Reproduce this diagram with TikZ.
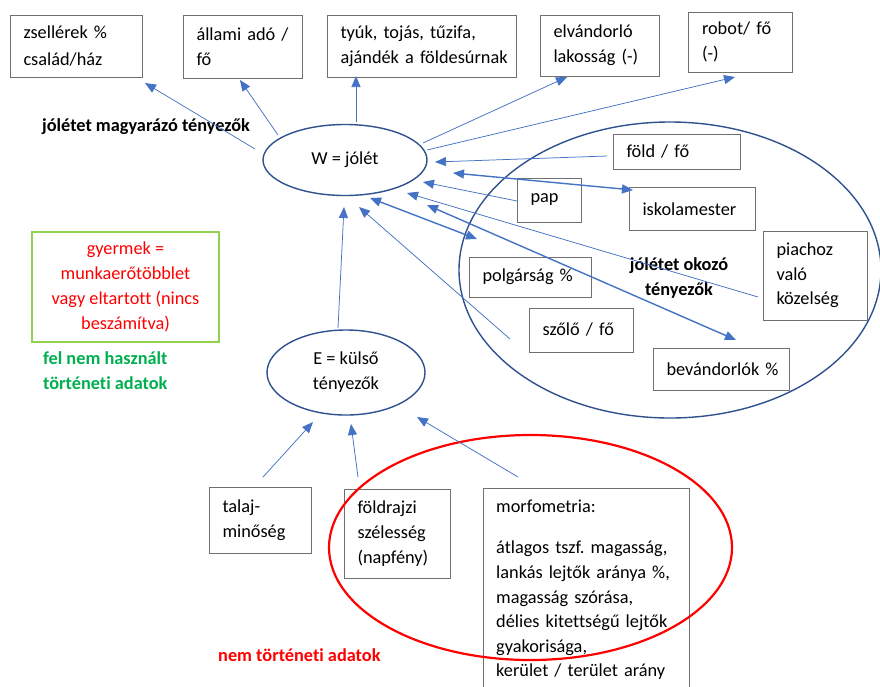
\documentclass[tikz,border=0pt]{standalone}
\usepackage{fontspec}
\setmainfont{Carlito}[Ligatures=NoCommon]
\usetikzlibrary{arrows.meta,calc,shapes.geometric}
\definecolor{arrblue}{HTML}{4472C4}
\definecolor{ellblue}{HTML}{2F528F}
\definecolor{boxgray}{HTML}{707070}
\definecolor{grnbox}{HTML}{92D050}
\definecolor{grntxt}{HTML}{00B050}
\definecolor{redc}{HTML}{FF0000}
\frenchspacing
\begin{document}
\begin{tikzpicture}[x=1pt,y=-1pt,
  font=\fontsize{18.3}{25}\selectfont\frenchspacing,
  box/.style={draw=boxgray,line width=0.8pt,inner xsep=13.5pt,inner ysep=0pt,align=left},
  boxline/.style={draw=boxgray,line width=0.8pt},
  ell/.style={draw=ellblue,ellipse,line width=1.4pt,inner sep=0pt},
  arr/.style={draw=arrblue,line width=0.75pt,-{Triangle[length=11pt,width=9pt]}},
  arrd/.style={draw=arrblue,line width=1.4pt,{Triangle[length=11pt,width=9pt]}-{Triangle[length=11pt,width=9pt]}},
  bold/.style={font=\fontsize{18.3}{25}\selectfont\bfseries,inner sep=0pt}]
\useasboundingbox (0,0) rectangle (880,686);
\fill[white] (0,0) rectangle (880,686);
\coordinate (bot) at (0,692);

% big ellipses
\node[ell,minimum width=422pt,minimum height=296pt] (okz) at (670,270) {};
\node[ell,minimum width=164pt,minimum height=71pt] (W) at (345,160) {W = jólét};
\node[ell,minimum width=158pt,minimum height=85pt,align=center] (E) at (346,372.5) {E = külső\\tényezők};

% top boxes
\node[box,text width=105pt,minimum height=62pt] (zs) at (76,46) {\mbox{zsellérek \%}\\[2pt]\mbox{család/ház}};
\node[box,text width=92pt,minimum height=63pt] (al) at (242.5,46.5) {\mbox{állami adó /}\\fő};
\node[box,text width=162pt,minimum height=62pt] (ty) at (421.5,46) {\mbox{tyúk, tojás, tűzifa,}\\\mbox{ajándék a földesúrnak}};
\node[box,text width=92pt,minimum height=61pt] (el) at (599.5,45.5) {elvándorló\\\mbox{lakosság (-)}};
\node[box,text width=77pt,minimum height=60pt] (ro) at (740.5,42) {\mbox{robot/ fő}\\(-)};

% boxes in the right ellipse
\node[box,text width=100pt,minimum height=35pt] (fo) at (676.5,151.5) {\mbox{föld / fő}};
\node[box,text width=37pt,minimum height=44pt] (pap) at (549,200) {pap};
\node[box,text width=99pt,minimum height=43pt] (isk) at (692,209) {iskolamester};
\node[box,text width=77pt,minimum height=89pt,font=\fontsize{18.3}{24.5}\selectfont] (pia) at (815,275.5) {piachoz\\való\\közelség};
\node[box,text width=95pt,minimum height=40pt] (pol) at (530,277) {\mbox{polgárság \%}};
\node[box,text width=77pt,minimum height=44pt] (sz) at (581,330) {\mbox{szőlő / fő}};
\node[box,text width=109pt,minimum height=42pt] (bev) at (721,369) {\mbox{bevándorlók \%}};

% bottom boxes
\node[box,text width=75pt,minimum height=66pt] (tal) at (260,520) {talaj-\\minőség};
\node[box,text width=79pt,minimum height=89pt] (geo) at (397,533.5) {földrajzi\\szélesség\\(napfény)};
\node[anchor=north west,inner xsep=13pt,inner ysep=12pt,text width=180pt,align=left,
      font=\fontsize{18.3}{24.6}\selectfont\frenchspacing] (morf) at (483,488)
  {morfometria:\\[16.4pt]\mbox{átlagos tszf. magasság,}\\\mbox{lankás lejtők aránya \%,}\\\mbox{magasság szórása,}\\\mbox{délies kitettségű lejtők}\\\mbox{gyakorisága,}\\\mbox{kerület / terület arány}};
\draw[boxline] (morf.north west |- bot) -- (morf.north west) -- (morf.north east) -- (morf.north east |- bot);

% green box and labels
\node[draw=grnbox,line width=2.6pt,minimum width=187pt,minimum height=110pt,align=center,text=redc,inner sep=0pt] (gy) at (125.5,287)
  {gyermek =\\munkaerőtöbblet\\vagy eltartott (nincs\\beszámítva)};
\node[bold,text=grntxt,align=left,anchor=west] (fel) at (43,371) {fel nem használt\\történeti adatok};
\node[bold,anchor=west] (mag) at (42,127) {jólétet magyarázó tényezők};
\node[bold,align=center] (okt) at (679,278) {jólétet okozó\\tényezők};
\node[bold,text=redc,anchor=west] (nem) at (218,655) {nem történeti adatok};

% red ellipse
\node[draw=redc,line width=2.2pt,ellipse,minimum width=403pt,minimum height=225pt,inner sep=0pt] (nt) at (530.5,547.5) {};

% arrows from W
\draw[arr] ($(W)+(-90,-11)$) -- ($(zs)+(69,37)$);
\draw[arr] ($(W)+(-67,-25)$) -- ($(al)+(-2.5,33.5)$);
\draw[arr] ($(W)+(11,-38)$) -- ($(ty)+(-65.5,30)$);
\draw[arr] ($(W)+(78,-17)$) -- ($(el)+(-32.5,31.5)$);
\draw[arr] ($(W)+(82,-10)$) -- ($(ro)+(-5.5,35)$);
% arrows into W
\draw[arr] ($(fo)+(-69.5,4.5)$) -- ($(W)+(90,2)$);
\draw[arrd] ($(W)+(108,13)$) -- ($(isk)+(-59,-19)$);
\draw[arr] ($(pap)+(-32,1)$) -- ($(W)+(78,22)$);
\draw[arr] ($(pia)+(-57,21.5)$) -- ($(W)+(62,33)$);
\draw[arrd] ($(W)+(82,45)$) -- ($(bev)+(15,-29)$);
\draw[arrd] ($(W)+(25,38)$) -- ($(pol)+(-53,-38)$);
\draw[arr] ($(sz)+(-71,9)$) -- ($(W)+(14,47)$);
\draw[arr] ($(E)+(-8,-44.5)$) -- ($(W)+(-1,47)$);
% arrows into E
\draw[arr] ($(tal)+(3,-43)$) -- ($(E)+(-33,49.5)$);
\draw[arr] ($(geo)+(-39,-56.5)$) -- ($(E)+(5,51.5)$);
\draw[arr] ($(morf.north west)+(35,-11)$) -- ($(E)+(71,44.5)$);
\end{tikzpicture}
\end{document}
